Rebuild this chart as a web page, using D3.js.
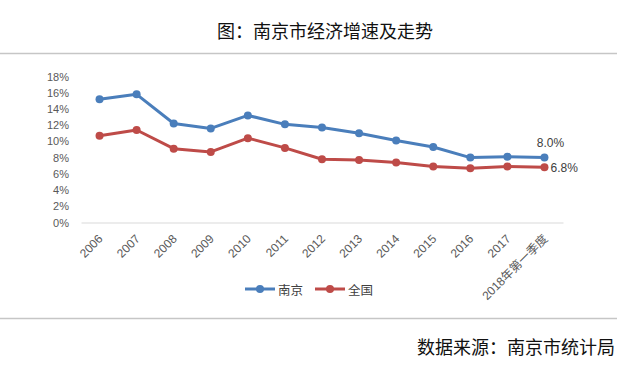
<!DOCTYPE html>
<html><head><meta charset="utf-8">
<script src="https://cdn.jsdelivr.net/npm/d3@7"></script>
<style>html,body{margin:0;padding:0;background:#fff;}svg{display:block;}</style>
</head><body>
<svg id="c" width="642" height="373"></svg>
<script>
const categories = ["2006","2007","2008","2009","2010","2011","2012","2013","2014","2015","2016","2017","2018年第一季度"];
const nanjing = [15.2,15.8,12.2,11.6,13.2,12.1,11.7,11.0,10.1,9.3,8.0,8.1,8.0];
const national = [10.7,11.4,9.1,8.7,10.4,9.2,7.8,7.7,7.4,6.9,6.7,6.9,6.8];
const yTicks = [0,2,4,6,8,10,12,14,16,18];
const seriesNames = ["南京","全国"];
const colors = ["#4a7ebb","#be4b48"];
const titleText = "图：南京市经济增速及走势";
const sourceText = "数据来源：南京市统计局";

const svg = d3.select("#c");
const font = "'Liberation Sans','Noto Sans CJK SC',sans-serif";
const cjk = "'Noto Sans CJK SC',sans-serif";

const x = d3.scaleBand().domain(categories).range([81,563]);
const xc = d => x(d) + x.bandwidth()/2;
const y = d3.scaleLinear().domain([0,18]).range([222.5,76.5]);

// title
svg.append("text").attr("x",325).attr("y",30).attr("text-anchor","middle")
  .attr("dominant-baseline","central").attr("font-family",cjk).attr("font-size",18)
  .attr("fill","#111").text(titleText);
svg.append("line").attr("x1",0).attr("x2",617).attr("y1",53.5).attr("y2",53.5)
  .attr("stroke","#c6c6c6").attr("stroke-width",1.5);

// y axis labels
const yAxis = d3.axisLeft(y).tickValues(yTicks).tickFormat(d=>d+"%").tickSize(0).tickPadding(0);
const ga = svg.append("g").attr("transform","translate(69,0)").call(yAxis);
ga.select(".domain").remove();
ga.selectAll("text").attr("font-family",font).attr("font-size",11).attr("fill","#595959");

// x axis
const xAxis = d3.axisBottom(x).tickSize(0).tickPadding(0);
const gx = svg.append("g").attr("transform","translate(0,222.5)").call(xAxis);
gx.select(".domain").attr("stroke","#d9d9d9").attr("stroke-width",1);
gx.selectAll("text").attr("font-family",font).attr("font-size",12).attr("fill","#595959")
  .attr("text-anchor","end").attr("dy",null).attr("y",null)
  .attr("transform","translate(4,17) rotate(-45)");

// lines
const seriesData = [nanjing, national];
const line = d3.line().x((d,i)=>xc(categories[i])).y(d=>y(d));
seriesData.forEach((s,k)=>{
  svg.append("path").datum(s).attr("d",line).attr("fill","none")
    .attr("stroke",colors[k]).attr("stroke-width",3).attr("stroke-linejoin","round");
  svg.append("g").selectAll("circle").data(s).join("circle")
    .attr("cx",(d,i)=>xc(categories[i])).attr("cy",d=>y(d)).attr("r",4)
    .attr("fill",colors[k]);
});

// data labels
const last = categories.length-1;
svg.append("text").attr("x",xc(categories[last])+6).attr("y",y(nanjing[last])-15)
  .attr("text-anchor","middle").attr("dominant-baseline","central")
  .attr("font-family",font).attr("font-size",12).attr("fill","#404040")
  .text(nanjing[last].toFixed(1)+"%");
svg.append("text").attr("x",xc(categories[last])+6).attr("y",y(national[last])+1)
  .attr("text-anchor","start").attr("dominant-baseline","central")
  .attr("font-family",font).attr("font-size",12).attr("fill","#404040")
  .text(national[last].toFixed(1)+"%");

// legend
const legX = [245,315];
seriesNames.forEach((n,k)=>{
  const g = svg.append("g").attr("transform",`translate(${legX[k]},289)`);
  g.append("line").attr("x1",0).attr("x2",30).attr("y1",0).attr("y2",0)
    .attr("stroke",colors[k]).attr("stroke-width",3);
  g.append("circle").attr("cx",15).attr("cy",0).attr("r",4).attr("fill",colors[k]);
  g.append("text").attr("x",33).attr("y",0).attr("dominant-baseline","central")
    .attr("font-family",cjk).attr("font-size",12.5).attr("fill","#404040").text(n);
});

// bottom
svg.append("line").attr("x1",0).attr("x2",617).attr("y1",318.5).attr("y2",318.5)
  .attr("stroke","#c6c6c6").attr("stroke-width",1.5);
svg.append("text").attr("x",417).attr("y",346).attr("dominant-baseline","central")
  .attr("font-family",cjk).attr("font-size",18).attr("fill","#111").text(sourceText);
</script>
</body></html>
